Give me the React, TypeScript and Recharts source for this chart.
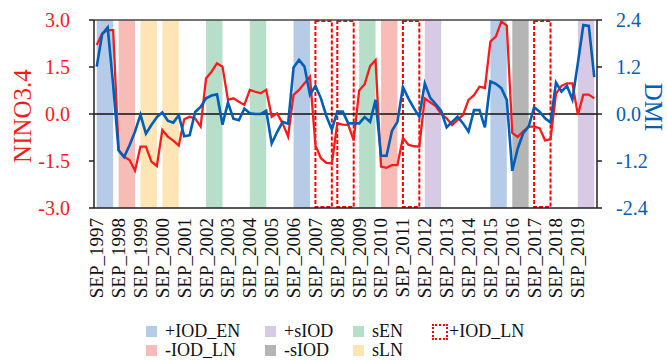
import { LineChart, Line, XAxis, YAxis, ReferenceArea, ReferenceLine } from 'recharts';

const years = [
  1997, 1998, 1999, 2000, 2001, 2002, 2003, 2004, 2005, 2006, 2007, 2008,
  2009, 2010, 2011, 2012, 2013, 2014, 2015, 2016, 2017, 2018, 2019,
];
const months = ['SEP', 'OCT', 'NOV', 'DEC'];

// Sep-Dec of each year
const nino34 = [
  2.2, 2.57, 2.68, 2.68, -1.15, -1.36, -1.47, -1.81, -1.04, -1.04, -1.52, -1.66,
  -0.51, -0.72, -0.85, -1.01, -0.17, -0.09, -0.14, -0.4, 1.14, 1.35, 1.62, 1.51,
  0.45, 0.5, 0.39, 0.29, 0.77, 0.71, 0.66, 0.77, -0.09, 0.02, -0.3, -0.72,
  0.61, 0.77, 0.98, 1.19, -1.0, -1.41, -1.56, -1.58, -0.3, -0.34, -0.35, -0.84,
  0.75, 0.95, 1.53, 1.72, -1.68, -1.72, -1.63, -1.63, -0.76, -0.98, -1.03, -1.04,
  0.5, 0.37, 0.25, 0.0, -0.14, -0.35, -0.19, -0.03, 0.45, 0.6, 0.87, 0.83,
  2.31, 2.47, 2.95, 2.82, -0.6, -0.73, -0.55, -0.4, -0.4, -0.45, -0.84, -0.8,
  0.65, 0.9, 0.98, 0.98, -0.02, 0.62, 0.62, 0.5,
];
const dmi = [
  1.21, 2.04, 2.21, 0.75, -0.93, -1.1, -0.8, -0.45, -0.02, -0.5, -0.28, -0.08,
  0.04, -0.17, -0.22, -0.03, -0.57, -0.54, 0.05, 0.18, 0.4, 0.47, 0.5, -0.27,
  0.29, -0.12, -0.16, 0.14, 0.02, 0.0, 0.0, 0.08, -0.75, -0.46, -0.2, -0.25,
  1.19, 1.38, 1.21, 0.49, 0.72, 0.4, -0.05, -0.4, 0.06, 0.06, -0.24, -0.24,
  -0.24, -0.08, -0.2, 0.36, -1.06, -1.07, -0.43, -0.2, 0.69, 0.4, 0.15, -0.07,
  0.78, 0.41, 0.25, 0.08, -0.34, -0.2, -0.07, -0.24, -0.45, 0.1, 0.1, -0.34,
  0.83, 0.77, 0.66, 0.36, -1.45, -0.88, -0.49, -0.32, 0.17, 0.06, -0.11, -0.22,
  0.8, 0.57, 0.72, 0.37, 1.3, 2.27, 2.25, 0.94,
];

const ninoTicks = [-3, -1.5, 0, 1.5, 3];
const dmiTicks = [-2.4, -1.2, 0, 1.2, 2.4];

// event years for shading
const posIodEnYears = [1997, 2006, 2015];
const negIodLnYears = [1998, 2010];
const sLnYears = [1999, 2000];
const sEnYears = [2002, 2004, 2009];
const posSIodYears = [2012, 2019];
const negSIodYears = [2016];
const posIodLnYears = [2007, 2008, 2011, 2017];

const COLORS = {
  posIodEn: '#b5cbe8',
  negIodLn: '#f8bcb6',
  sLn: '#fde5b6',
  sEn: '#b6dec8',
  posSIod: '#d8cae4',
  negSIod: '#b5b5b5',
};

const RED = '#ff1a1a';
const BLUE = '#005eb8';
const FONT = '"Liberation Serif", "Times New Roman", Times, serif';

const data = nino34.map((v, i) => ({
  i,
  label: `${months[i % 4]}_${years[Math.floor(i / 4)]}`,
  nino: v,
  dmi: dmi[i],
}));

const bands = [
  ...posIodEnYears.map((y) => ({ y, fill: COLORS.posIodEn })),
  ...negIodLnYears.map((y) => ({ y, fill: COLORS.negIodLn })),
  ...sLnYears.map((y) => ({ y, fill: COLORS.sLn })),
  ...sEnYears.map((y) => ({ y, fill: COLORS.sEn })),
  ...posSIodYears.map((y) => ({ y, fill: COLORS.posSIod })),
  ...negSIodYears.map((y) => ({ y, fill: COLORS.negSIod })),
];

const yearStart = (y: number) => (y - years[0]) * 4;

const XTick = ({ x, y, payload }: any) => {
  const idx = payload.value as number;
  return (
    <text
      x={x}
      y={y + 2}
      transform={`rotate(-90, ${x}, ${y + 2})`}
      textAnchor="end"
      dy="0.34em"
      fill="#111"
      fontSize={19}
      style={{ fontFamily: FONT }}
    >
      {data[idx].label}
    </text>
  );
};

const legendRows = [
  [
    { name: '+IOD_EN', color: COLORS.posIodEn, x: 146 },
    { name: '+sIOD', color: COLORS.posSIod, x: 265 },
    { name: 'sEN', color: COLORS.sEn, x: 353 },
  ],
  [
    { name: '-IOD_LN', color: COLORS.negIodLn, x: 146 },
    { name: '-sIOD', color: COLORS.negSIod, x: 265 },
    { name: 'sLN', color: COLORS.sLn, x: 353 },
  ],
];

const App = () => {
  return (
    <div style={{ position: 'fixed', left: 0, top: 0, width: 667, height: 360, background: '#fff', overflow: 'hidden', fontFamily: FONT }}>
      <LineChart width={667} height={308} data={data} margin={{ top: 20, right: 0, bottom: 0, left: 0 }}>
        {bands.map((b) => (
          <ReferenceArea
            key={`b${b.y}`}
            yAxisId="l"
            x1={yearStart(b.y)}
            x2={yearStart(b.y) + 3}
            y1={-3}
            y2={3}
            fill={b.fill}
            fillOpacity={1}
            stroke="none"
          />
        ))}
        {posIodLnYears.map((y) => (
          <ReferenceArea
            key={`d${y}`}
            yAxisId="l"
            x1={yearStart(y)}
            x2={yearStart(y) + 3}
            y1={-2.97}
            y2={2.97}
            fill="none"
            stroke="#ff0000"
            strokeWidth={2}
            strokeDasharray="4 2"
          />
        ))}
        <XAxis
          type="number"
          dataKey="i"
          domain={[-0.5, 91.5]}
          ticks={years.map((y) => yearStart(y))}
          interval={0}
          tick={<XTick />}
          tickLine={false}
          axisLine={{ stroke: '#222', strokeWidth: 1.5 }}
          height={100}
        />
        <YAxis
          yAxisId="l"
          domain={[-3, 3]}
          ticks={ninoTicks}
          interval={0}
          width={94}
          tickSize={5}
          tickMargin={19}
          tickFormatter={(v: number) => v.toFixed(1)}
          tick={{ fill: RED, fontSize: 20, style: { fontFamily: FONT } }}
          tickLine={{ stroke: '#222', strokeWidth: 1.5 }}
          axisLine={{ stroke: '#222', strokeWidth: 1.5 }}
          label={{
            content: () => (
              <text x={31} y={116} transform="rotate(-90, 31, 116)" textAnchor="middle" fill={RED} fontSize={25} style={{ fontFamily: FONT }}>
                NINO3.4
              </text>
            ),
          }}
        />
        <YAxis
          yAxisId="r"
          orientation="right"
          domain={[-2.4, 2.4]}
          ticks={dmiTicks}
          interval={0}
          width={70}
          tickSize={5}
          tickMargin={14}
          tickFormatter={(v: number) => v.toFixed(1)}
          tick={{ fill: BLUE, fontSize: 20, style: { fontFamily: FONT } }}
          tickLine={{ stroke: '#222', strokeWidth: 1.5 }}
          axisLine={{ stroke: '#222', strokeWidth: 1.5 }}
          label={{
            content: () => (
              <text x={645} y={107} transform="rotate(90, 645, 107)" textAnchor="middle" fill={BLUE} fontSize={25} style={{ fontFamily: FONT }}>
                DMI
              </text>
            ),
          }}
        />
        <ReferenceLine yAxisId="l" y={0} stroke="#111" strokeWidth={1.5} />
        <ReferenceLine yAxisId="l" y={3} stroke="#444" strokeWidth={1.5} />
        <Line yAxisId="l" type="linear" dataKey="nino" stroke={RED} strokeWidth={2.3} dot={false} isAnimationActive={false} />
        <Line yAxisId="r" type="linear" dataKey="dmi" stroke={BLUE} strokeWidth={2.6} dot={false} isAnimationActive={false} />
      </LineChart>

      {legendRows.map((row, r) =>
        row.map((it) => (
          <div key={it.name} style={{ position: 'absolute', left: it.x, top: 322 + r * 19, height: 19, display: 'flex', alignItems: 'center' }}>
            <div style={{ width: 11, height: 11, background: it.color }} />
            <span style={{ marginLeft: 8, fontSize: 18, color: '#111', lineHeight: '19px' }}>{it.name}</span>
          </div>
        ))
      )}
      <div style={{ position: 'absolute', left: 432, top: 322, height: 19, display: 'flex', alignItems: 'center' }}>
        <div style={{ width: 12, height: 12, border: '2px dotted #ff0000' }} />
        <span style={{ marginLeft: 1, fontSize: 18, color: '#111', lineHeight: '19px' }}>+IOD_LN</span>
      </div>
    </div>
  );
};

export default App;
